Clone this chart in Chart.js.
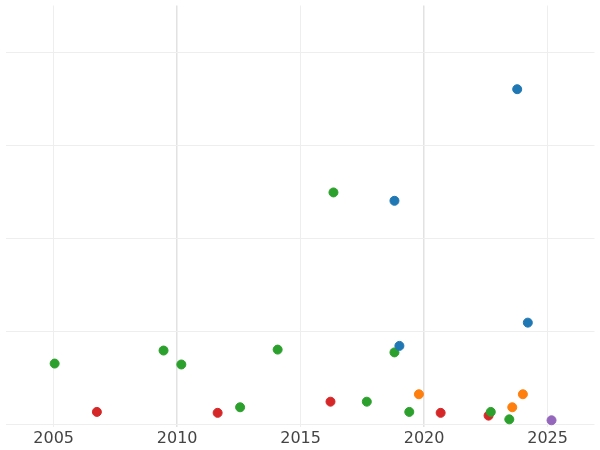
<!DOCTYPE html>
<html>
<head>
<script src="https://cdn.jsdelivr.net/npm/chart.js@4"></script>
<style>body{margin:0;background:#fff}#wrap{width:600px;height:450px}</style>
</head>
<body>
<div id="wrap"><canvas id="c"></canvas></div>
<script>
const blueX = [2023.77, 2018.8, 2019.0, 2024.2];
const blueY = [3.6, 2.4, 0.84, 1.09];
const greenX = [2005.04, 2009.45, 2010.17, 2014.07, 2016.33, 2012.55, 2017.68, 2018.8, 2019.4, 2022.7, 2023.45];
const greenY = [0.65, 0.79, 0.64, 0.8, 2.49, 0.18, 0.24, 0.77, 0.13, 0.13, 0.05];
const redX = [2006.75, 2011.64, 2016.21, 2020.67, 2022.61];
const redY = [0.13, 0.12, 0.24, 0.12, 0.09];
const orangeX = [2019.79, 2024.0, 2023.57];
const orangeY = [0.32, 0.32, 0.18];
const purpleX = [2025.16];
const purpleY = [0.04];
const xTicks = [2005, 2010, 2015, 2020, 2025];

const pts = (xs, ys) => xs.map((x, i) => ({x: x, y: ys[i]}));
const ds = (xs, ys, color) => ({data: pts(xs, ys), backgroundColor: color, borderColor: color, pointRadius: 4.5, pointHoverRadius: 4.5});

new Chart(document.getElementById('c'), {
    type: 'scatter',
    data: {
        datasets: [
            ds(blueX, blueY, '#1f77b4'),
            ds(greenX, greenY, '#2ca02c'),
            ds(redX, redY, '#d62728'),
            ds(orangeX, orangeY, '#ff7f0e'),
            ds(purpleX, purpleY, '#9467bd'),
        ]
    },
    options: {
        responsive: true,
        maintainAspectRatio: false,
        animation: false,
        layout: {padding: {left: -6, right: -6, top: -5, bottom: 0}},
        plugins: {legend: {display: false}, tooltip: {enabled: false}},
        scales: {
            x: {
                type: 'linear', min: 2003.05, max: 2026.9,
                afterBuildTicks: axis => { axis.ticks = xTicks.map(v => ({value: v})); },
                grid: {
                    color: c => (c.tick && c.tick.value % 10 === 0) ? '#e2e2e2' : '#eeeeee',
                    lineWidth: c => (c.tick && c.tick.value % 10 === 0) ? 1.5 : 1,
                    drawTicks: false
                },
                border: {display: false},
                ticks: {color: '#444', font: {size: 16, family: 'DejaVu Sans'}, padding: 2, callback: v => String(v)}
            },
            y: {
                min: -0.03, max: 4.5,
                afterBuildTicks: axis => { axis.ticks = [0, 1, 2, 3, 4].map(v => ({value: v})); },
                grid: {color: '#eeeeee', drawTicks: false},
                border: {display: false},
                ticks: {display: false}
            }
        }
    }
});
</script>
</body>
</html>
